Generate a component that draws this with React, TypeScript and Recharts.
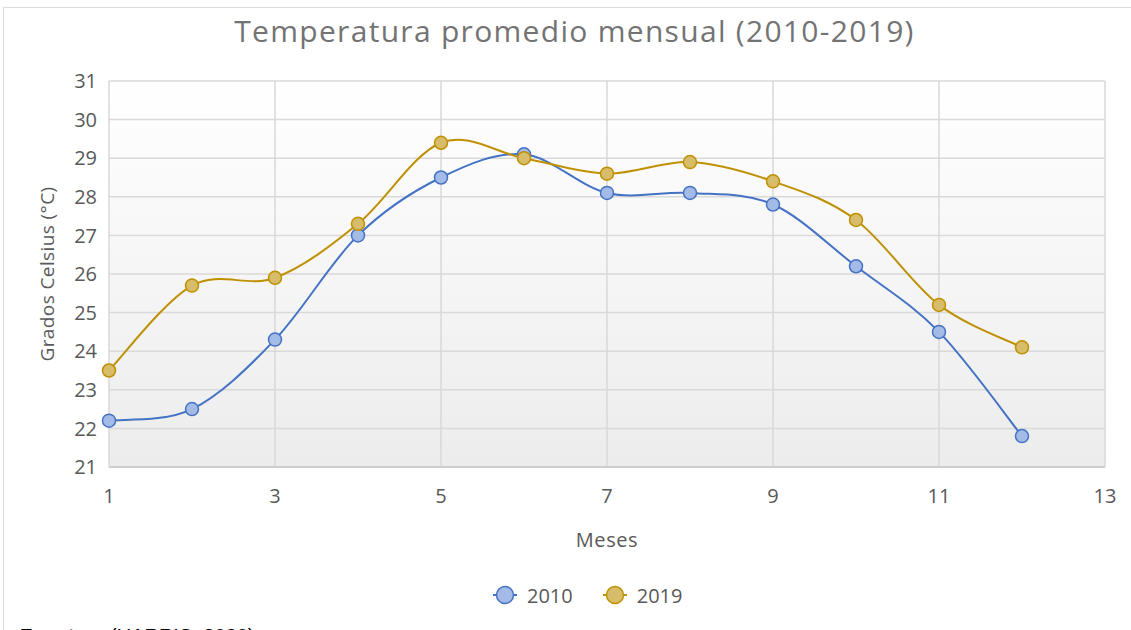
import React from 'react';
import { LineChart, Line, XAxis, YAxis, CartesianGrid, Legend } from 'recharts';

const FONT = '"Open Sans", "Noto Sans", sans-serif';

const months = [1, 2, 3, 4, 5, 6, 7, 8, 9, 10, 11, 12];
const temps2010 = [22.2, 22.5, 24.3, 27.0, 28.5, 29.1, 28.1, 28.1, 27.8, 26.2, 24.5, 21.8];
const temps2019 = [23.5, 25.7, 25.9, 27.3, 29.4, 29.0, 28.6, 28.9, 28.4, 27.4, 25.2, 24.1];
const xTicks = [1, 3, 5, 7, 9, 11, 13];
const yTicks = [21, 22, 23, 24, 25, 26, 27, 28, 29, 30, 31];

const data = months.map((m, i) => ({ mes: m, y2010: temps2010[i], y2019: temps2019[i] }));

// Excel-style smoothed line (Catmull-Rom as cubic bezier)
const excelCurve = (context: any) => {
  let pts: [number, number][] = [];
  return {
    areaStart() {},
    areaEnd() {},
    lineStart() {
      pts = [];
    },
    lineEnd() {
      if (!pts.length) return;
      context.moveTo(pts[0][0], pts[0][1]);
      for (let i = 0; i < pts.length - 1; i++) {
        const p0 = pts[i - 1] || pts[i];
        const p1 = pts[i];
        const p2 = pts[i + 1];
        const p3 = pts[i + 2] || p2;
        context.bezierCurveTo(
          p1[0] + (p2[0] - p0[0]) / 6,
          p1[1] + (p2[1] - p0[1]) / 6,
          p2[0] - (p3[0] - p1[0]) / 6,
          p2[1] - (p3[1] - p1[1]) / 6,
          p2[0],
          p2[1]
        );
      }
    },
    point(x: number, y: number) {
      pts.push([x, y]);
    },
  };
};

const SERIES = [
  { key: 'y2010', name: '2010', stroke: '#4472C4', fill: '#A3BBE6' },
  { key: 'y2019', name: '2019', stroke: '#BF9000', fill: '#D7BC6A' },
];

const AXIS_TEXT = { fill: '#595959', fontSize: 20, fontFamily: FONT };

function LegendContent() {
  return (
    <div style={{ display: 'flex', alignItems: 'center', height: 30, fontFamily: FONT, fontSize: 20, color: '#595959' }}>
      {SERIES.map((s, i) => (
        <span key={s.key} style={{ display: 'inline-flex', alignItems: 'center', marginLeft: i ? 30 : 0 }}>
          <svg width={24} height={24}>
            <line x1={0} y1={12} x2={24} y2={12} stroke={s.stroke} strokeWidth={2} />
            <circle cx={12} cy={12} r={8.5} fill={s.fill} stroke={s.stroke} strokeWidth={1.5} />
          </svg>
          <span style={{ marginLeft: 10 }}>{s.name}</span>
        </span>
      ))}
    </div>
  );
}

export default function App() {
  return (
    <div style={{ position: 'fixed', left: 0, top: 0, width: 1131, height: 630, overflow: 'hidden', background: '#fff', fontFamily: FONT }}>
      <div style={{ position: 'absolute', left: 3, top: 7, width: 1200, height: 700, borderLeft: '1.5px solid #DCDCDC', borderTop: '1.5px solid #DCDCDC' }} />
      <div style={{ position: 'absolute', left: 0, top: 0 }}>
        <LineChart width={1131} height={630} data={data} margin={{ top: 81, right: 26, left: 0, bottom: 20 }}>
          <defs>
            <linearGradient id="plotBg" x1="0" y1="0" x2="0" y2="1">
              <stop offset="0%" stopColor="#FFFFFF" />
              <stop offset="100%" stopColor="#ECECEC" />
            </linearGradient>
          </defs>
          <CartesianGrid stroke="#D9D9D9" strokeWidth={1.5} fill="url(#plotBg)" />
          <XAxis
            type="number"
            dataKey="mes"
            domain={[1, 13]}
            ticks={xTicks}
            height={113}
            tickSize={0}
            tickMargin={22}
            axisLine={{ stroke: '#CFCFCF', strokeWidth: 2 }}
            tick={AXIS_TEXT}
            label={{ value: 'Meses', position: 'insideTop', offset: 66, ...AXIS_TEXT, letterSpacing: 0.6 }}
          />
          <YAxis
            type="number"
            domain={[21, 31]}
            ticks={yTicks}
            width={109}
            tickSize={0}
            tickMargin={12}
            axisLine={false}
            tick={AXIS_TEXT}
            label={{
              value: 'Grados Celsius (°C)',
              angle: -90,
              position: 'insideLeft',
              offset: 47,
              ...AXIS_TEXT,
              fontSize: 19,
              style: { textAnchor: 'middle', letterSpacing: 0.4 },
            }}
          />
          <Legend verticalAlign="bottom" height={30} content={<LegendContent />} wrapperStyle={{ left: 493, width: 260 }} />
          {SERIES.map((s) => (
            <Line
              key={s.key}
              dataKey={s.key}
              name={s.name}
              type={excelCurve as any}
              stroke={s.stroke}
              strokeWidth={2}
              dot={{ r: 6.5, fill: s.fill, stroke: s.stroke, strokeWidth: 1.5, fillOpacity: 1 }}
              activeDot={false}
              isAnimationActive={false}
            />
          ))}
        </LineChart>
      </div>
      <div style={{ position: 'absolute', left: 0, top: 16, width: 1149, textAlign: 'center', fontSize: 30, lineHeight: '30px', letterSpacing: 1.3, color: '#737373' }}>
        Temperatura promedio mensual (2010-2019)
      </div>
      <div style={{ position: 'absolute', left: 20, top: 626, fontFamily: '"Liberation Sans", Arial, sans-serif', fontSize: 20, lineHeight: '20px', color: '#000', whiteSpace: 'pre' }}>
        <b>Fuente:</b>
        <span style={{ position: 'absolute', left: 90 }}>(HARRIS, 2020)</span>
      </div>
    </div>
  );
}
